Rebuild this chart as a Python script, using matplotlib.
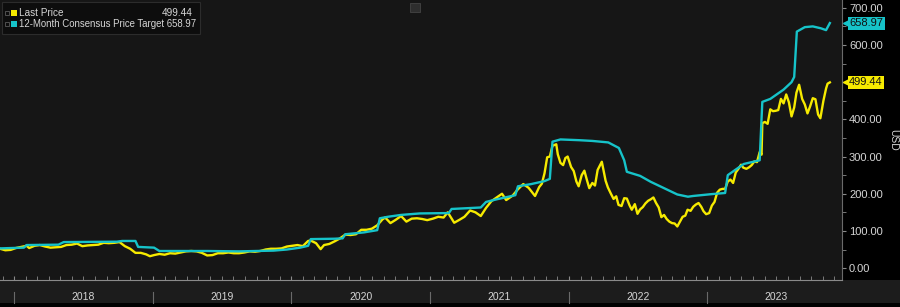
import matplotlib
matplotlib.use("Agg")
import matplotlib.pyplot as plt
import matplotlib.dates as mdates
import matplotlib.transforms as mtransforms
from matplotlib.patches import Rectangle
from matplotlib.ticker import MultipleLocator, StrMethodFormatter
import pandas as pd

# Last price (USD)
price_dates = [
    "2017-11-24", "2017-12-08", "2017-12-22", "2018-01-05", "2018-01-19", "2018-02-02",
    "2018-02-09", "2018-02-23", "2018-03-09", "2018-03-23", "2018-04-06", "2018-04-20",
    "2018-05-04", "2018-05-18", "2018-06-01", "2018-06-15", "2018-06-29", "2018-07-13",
    "2018-07-27", "2018-08-10", "2018-08-24", "2018-09-07", "2018-09-21", "2018-10-05",
    "2018-10-19", "2018-11-02", "2018-11-16", "2018-11-30", "2018-12-14", "2018-12-24",
    "2019-01-04", "2019-01-18", "2019-02-01", "2019-02-15", "2019-03-01", "2019-03-15",
    "2019-03-29", "2019-04-12", "2019-04-26", "2019-05-10", "2019-05-24", "2019-06-07",
    "2019-06-21", "2019-07-05", "2019-07-19", "2019-08-02", "2019-08-16", "2019-08-30",
    "2019-09-13", "2019-09-27", "2019-10-11", "2019-10-25", "2019-11-08", "2019-11-22",
    "2019-12-06", "2019-12-20", "2020-01-03", "2020-01-17", "2020-01-31", "2020-02-14",
    "2020-02-21", "2020-03-06", "2020-03-18", "2020-03-27", "2020-04-10", "2020-04-24",
    "2020-05-08", "2020-05-22", "2020-06-05", "2020-06-19", "2020-07-03", "2020-07-17",
    "2020-07-31", "2020-08-14", "2020-08-28", "2020-09-04", "2020-09-18", "2020-10-02",
    "2020-10-16", "2020-10-30", "2020-11-13", "2020-11-27", "2020-12-11", "2020-12-24",
    "2021-01-08", "2021-01-22", "2021-02-05", "2021-02-16", "2021-03-05", "2021-03-19",
    "2021-04-01", "2021-04-16", "2021-04-30", "2021-05-14", "2021-05-28", "2021-06-11",
    "2021-06-25", "2021-07-09", "2021-07-20", "2021-08-06", "2021-08-20", "2021-09-03",
    "2021-09-17", "2021-10-04", "2021-10-15", "2021-10-22", "2021-10-29", "2021-11-05",
    "2021-11-12", "2021-11-19", "2021-11-29", "2021-12-03", "2021-12-10", "2021-12-17",
    "2021-12-23", "2021-12-29", "2022-01-07", "2022-01-14", "2022-01-21", "2022-01-27",
    "2022-02-04", "2022-02-11", "2022-02-18", "2022-02-24", "2022-03-04", "2022-03-11",
    "2022-03-18", "2022-03-29", "2022-04-08", "2022-04-14", "2022-04-22", "2022-04-29",
    "2022-05-06", "2022-05-12", "2022-05-20", "2022-05-27", "2022-06-03", "2022-06-10",
    "2022-06-16", "2022-06-24", "2022-07-01", "2022-07-08", "2022-07-15", "2022-07-22",
    "2022-07-29", "2022-08-05", "2022-08-12", "2022-08-19", "2022-08-26", "2022-09-02",
    "2022-09-09", "2022-09-16", "2022-09-23", "2022-09-30", "2022-10-07", "2022-10-14",
    "2022-10-21", "2022-10-28", "2022-11-04", "2022-11-10", "2022-11-18", "2022-11-25",
    "2022-12-02", "2022-12-09", "2022-12-16", "2022-12-22", "2022-12-29", "2023-01-06",
    "2023-01-13", "2023-01-20", "2023-01-27", "2023-02-03", "2023-02-10", "2023-02-17",
    "2023-02-24", "2023-03-03", "2023-03-10", "2023-03-17", "2023-03-24", "2023-03-31",
    "2023-04-06", "2023-04-14", "2023-04-21", "2023-04-28", "2023-05-05", "2023-05-12",
    "2023-05-19", "2023-05-24", "2023-05-26", "2023-06-02", "2023-06-09", "2023-06-16",
    "2023-06-23", "2023-06-30", "2023-07-07", "2023-07-14", "2023-07-21", "2023-07-28",
    "2023-08-04", "2023-08-11", "2023-08-18", "2023-08-24", "2023-08-31", "2023-09-08",
    "2023-09-15", "2023-09-22", "2023-09-29", "2023-10-06", "2023-10-13", "2023-10-20",
    "2023-10-26", "2023-11-03", "2023-11-10", "2023-11-14", "2023-11-20",
]
price_values = [
    52, 48, 49, 54, 57, 60,
    54, 60, 62, 58, 55, 56,
    57, 62, 63, 66, 59, 61,
    62, 63, 68, 67, 68, 70,
    59, 52, 41, 41, 37, 32,
    35, 38, 36, 40, 39, 42,
    45, 46, 45, 41, 34, 35,
    40, 40, 42, 40, 40, 42,
    45, 44, 46, 50, 52, 52,
    53, 58, 60, 62, 59, 73,
    74, 67, 51, 62, 65, 72,
    80, 90, 89, 91, 103, 103,
    106, 115, 131, 136, 121, 130,
    140, 125, 133, 134, 132, 129,
    133, 138, 136, 150, 122, 130,
    138, 155, 150, 140, 162, 180,
    190, 200, 183, 195, 212, 226,
    216, 194, 218, 227, 255, 298,
    300, 329, 333, 306, 283, 277,
    296, 300, 272, 261, 233, 220,
    250, 262, 236, 215, 229, 222,
    264, 286, 235, 217, 200, 186,
    193, 170, 167, 188, 187, 169,
    157, 172, 146, 158, 164, 174,
    181, 185, 190, 175, 163, 137,
    143, 132, 125, 121, 120, 112,
    125, 138, 141, 157, 154, 165,
    171, 175, 165, 153, 145, 148,
    168, 178, 203, 211, 213, 213,
    233, 238, 229, 257, 267, 278,
    270, 267, 271, 277, 287, 285,
    312, 305, 390, 393, 388, 427,
    422, 423, 425, 455, 443, 467,
    446, 408, 432, 472, 493, 455,
    440, 416, 435, 457, 454, 413,
    403, 450, 483, 496, 499.44,
]

# 12-month consensus price target (USD)
target_dates = [
    "2017-11-24", "2018-01-26", "2018-02-02", "2018-04-27", "2018-05-11", "2018-09-28",
    "2018-10-12", "2018-11-16", "2018-11-23", "2019-01-04", "2019-01-18", "2019-05-24",
    "2019-08-16", "2019-11-15", "2019-12-20", "2020-01-24", "2020-02-14", "2020-02-21",
    "2020-04-24", "2020-05-15", "2020-05-22", "2020-07-10", "2020-08-14", "2020-08-21",
    "2020-09-11", "2020-10-16", "2020-12-04", "2021-02-19", "2021-02-26", "2021-05-14",
    "2021-05-28", "2021-06-25", "2021-08-13", "2021-08-20", "2021-09-24", "2021-10-29",
    "2021-11-12", "2021-11-19", "2021-12-10", "2022-01-28", "2022-03-04", "2022-04-15",
    "2022-05-13", "2022-05-27", "2022-06-03", "2022-07-08", "2022-08-05", "2022-09-09",
    "2022-10-14", "2022-11-11", "2022-11-25", "2023-01-13", "2023-02-17", "2023-02-24",
    "2023-04-07", "2023-05-19", "2023-05-26", "2023-06-16", "2023-07-21", "2023-08-11",
    "2023-08-18", "2023-08-25", "2023-09-15", "2023-10-06", "2023-10-27", "2023-11-10",
    "2023-11-20",
]
target_values = [
    53, 55, 62, 63, 70, 71,
    73, 73, 57, 55, 46, 46,
    45, 47, 50, 55, 60, 78,
    79, 80, 91, 96, 102, 134,
    138, 143, 147, 148, 159, 163,
    178, 185, 196, 220, 226, 234,
    240, 340, 346, 344, 342, 338,
    323, 290, 259, 248, 232, 215,
    198, 192, 194, 199, 202, 250,
    280, 290, 447, 455, 480, 500,
    514, 636, 648, 650, 645, 640,
    658.97,
]

last_label = "Last Price"
target_label = "12-Month Consensus Price Target"
years = [2018, 2019, 2020, 2021, 2022, 2023]

YELLOW = "#f6ea00"
CYAN = "#16c3c9"
GREY_TXT = "#d6d6d6"

price_x = pd.to_datetime(price_dates)
target_x = pd.to_datetime(target_dates)

plt.rcParams["font.family"] = ["Liberation Sans", "DejaVu Sans"]

fig = plt.figure(figsize=(9, 3.07), dpi=100, facecolor="black")
# date band under the plot (drawn beneath the axes)
fig.patches.append(Rectangle((0, 4 / 307), 1, 23 / 307, transform=fig.transFigure,
                             facecolor="#1c1c1c", edgecolor="none", zorder=-1))

ax = fig.add_axes([0, 27 / 307, 842 / 900, 280 / 307])
ax.set_facecolor("#161616")

ax.plot(target_x, target_values, color=CYAN, lw=1.7, zorder=3)
ax.plot(price_x, price_values, color=YELLOW, lw=1.7, zorder=2)

ax.set_xlim(pd.Timestamp("2017-11-24"), pd.Timestamp("2023-12-22"))
ax.set_ylim(-32, 721)

for s in ["top", "left"]:
    ax.spines[s].set_visible(False)
ax.spines["bottom"].set_color("#8a8a8a")
ax.spines["right"].set_color("#6a6a6a")

# x axis: monthly ticks pointing up, year labels in the band below
ax.xaxis.set_major_locator(mdates.YearLocator())
ax.xaxis.set_minor_locator(mdates.MonthLocator())
ax.xaxis.set_major_formatter(plt.NullFormatter())
ax.tick_params(axis="x", which="both", direction="in", length=3, color="#8a8a8a",
               labelbottom=False)

trans = mtransforms.blended_transform_factory(ax.transData, ax.transAxes)
for yr in years:
    start = pd.Timestamp(f"{yr}-01-01")
    mid = pd.Timestamp(f"{yr}-07-02")
    ax.plot([start, start], [-0.043, -0.082], transform=trans, color="#6a6a6a",
            lw=0.8, clip_on=False)
    ax.text(mid, -0.062, str(yr), transform=trans, ha="center", va="center",
            color=GREY_TXT, fontsize=7.5)

# y axis on the right
ax.yaxis.tick_right()
ax.yaxis.set_major_locator(MultipleLocator(100))
ax.yaxis.set_minor_locator(MultipleLocator(50))
ax.yaxis.set_major_formatter(StrMethodFormatter("{x:.2f}"))
ax.tick_params(axis="y", which="both", direction="out", length=3, color="#8a8a8a",
               labelcolor=GREY_TXT, labelsize=8, pad=2)
ax.set_ylim(-32, 721)
fig.text(893 / 900, 1 - 140 / 307, "USD", rotation=270, ha="center", va="center",
         color=GREY_TXT, fontsize=7.5)

# value tags on the right edge
ytrans = mtransforms.blended_transform_factory(ax.transAxes, ax.transData)
for val, col in [(target_values[-1], CYAN), (price_values[-1], YELLOW)]:
    ax.plot([1.0045], [val], marker="<", ms=5, color=col, transform=ytrans,
            clip_on=False, zorder=5)
    ax.text(1.0085, val, f"{val:.2f}", transform=ytrans, ha="left", va="center",
            fontsize=8, color="#111111", clip_on=False, zorder=6,
            bbox=dict(boxstyle="square,pad=0.14", facecolor=col, edgecolor="none"))

# legend box drawn by hand, top left
W, H = 842.0, 280.0
ax.add_patch(Rectangle((2 / W, 1 - 34 / H), 198 / W, 32 / H, transform=ax.transAxes,
                       facecolor="#0d0d0d", edgecolor="#2c2c2c", lw=0.8, zorder=7))
rows = [(last_label, f"{price_values[-1]:.2f}", YELLOW, 13),
        (target_label, f"{target_values[-1]:.2f}", CYAN, 24)]
for i, (lab, val, col, ypx) in enumerate(rows):
    ax.add_patch(Rectangle((5 / W, 1 - (ypx + 2) / H), 4 / W, 4 / H,
                           transform=ax.transAxes, facecolor="none",
                           edgecolor="#5a5a5a", lw=0.6, zorder=8))
    ax.add_patch(Rectangle((11 / W, 1 - (ypx + 3) / H), 6 / W, 6 / H,
                           transform=ax.transAxes, facecolor=col,
                           edgecolor="none", zorder=8))
    if i == 0:
        ax.text(19 / W, 1 - ypx / H, lab, transform=ax.transAxes, ha="left",
                va="center", fontsize=7.2, color=GREY_TXT, zorder=9)
        ax.text(193 / W, 1 - ypx / H, val, transform=ax.transAxes, ha="right",
                va="center", fontsize=7.2, color=GREY_TXT, zorder=9)
    else:
        ax.text(19 / W, 1 - ypx / H, f"{lab} {val}", transform=ax.transAxes,
                ha="left", va="center", fontsize=6.9, color=GREY_TXT, zorder=9)

# small toolbar icon at the top centre
fig.patches.append(Rectangle((410 / 900, 1 - 12 / 307), 10 / 900, 9 / 307,
                             transform=fig.transFigure, facecolor="#2e2e2e",
                             edgecolor="#444444", lw=0.6, zorder=10))

fig.savefig("out.png", dpi=100, facecolor=fig.get_facecolor())
